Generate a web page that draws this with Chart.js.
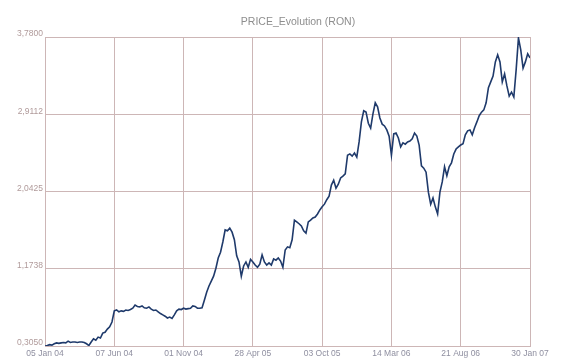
<!DOCTYPE html>
<html>
<head>
<meta charset="utf-8">
<script src="https://cdn.jsdelivr.net/npm/chart.js@4.4.1/dist/chart.umd.min.js"></script>
<style>
    body { margin: 0; background: #fff; }
    #wrap { width: 576px; height: 361px; position: relative; }
</style>
</head>
<body>
<div id="wrap"><canvas id="priceChart"></canvas></div>
<script>
// Title
const chartTitle = 'PRICE_Evolution (RON)';

// Date labels under the vertical grid lines (one every 30 points)
const tickLabels = ['05 Jan 04', '07 Jun 04', '01 Nov 04', '28 Apr 05', '03 Oct 05', '14 Mar 06', '21 Aug 06', '30 Jan 07'];
const labelStep = 30;

// Y axis ticks (min..max split in 4)
const yTicks = [0.3050, 1.1738, 2.0425, 2.9112, 3.7800];

// Price values
const prices = [
    0.305, 0.31, 0.32, 0.315, 0.33, 0.34, 0.335, 0.34, 0.345, 0.34,
    0.36, 0.345, 0.35, 0.35, 0.345, 0.35, 0.35, 0.345, 0.33, 0.31,
    0.35, 0.385, 0.37, 0.405, 0.395, 0.45, 0.46, 0.495, 0.52, 0.575,
    0.70, 0.71, 0.69, 0.70, 0.695, 0.71, 0.705, 0.715, 0.73, 0.765,
    0.75, 0.745, 0.755, 0.735, 0.73, 0.745, 0.72, 0.705, 0.71, 0.69,
    0.67, 0.655, 0.64, 0.62, 0.63, 0.615, 0.655, 0.70, 0.72, 0.715,
    0.73, 0.72, 0.725, 0.73, 0.755, 0.75, 0.73, 0.73, 0.735, 0.82,
    0.91, 0.98, 1.035, 1.09, 1.18, 1.295, 1.36, 1.475, 1.61, 1.60,
    1.63, 1.585, 1.50, 1.32, 1.25, 1.09, 1.205, 1.25, 1.19, 1.28,
    1.25, 1.215, 1.19, 1.225, 1.33, 1.25, 1.215, 1.24, 1.215, 1.285,
    1.27, 1.295, 1.26, 1.19, 1.385, 1.42, 1.41, 1.50, 1.72, 1.70,
    1.68, 1.655, 1.60, 1.575, 1.70, 1.72, 1.745, 1.755, 1.79, 1.835,
    1.87, 1.90, 1.95, 1.99, 2.115, 2.17, 2.08, 2.125, 2.195, 2.215,
    2.24, 2.45, 2.465, 2.44, 2.475, 2.43, 2.60, 2.825, 2.95, 2.935,
    2.81, 2.755, 2.915, 3.04, 2.995, 2.87, 2.80, 2.78, 2.735, 2.665,
    2.45, 2.69, 2.70, 2.645, 2.545, 2.59, 2.575, 2.60, 2.61, 2.635,
    2.70, 2.665, 2.565, 2.33, 2.305, 2.26, 2.035, 1.90, 1.97, 1.87,
    1.79, 2.035, 2.15, 2.32, 2.22, 2.32, 2.365, 2.465, 2.52, 2.545,
    2.565, 2.58, 2.68, 2.725, 2.735, 2.68, 2.76, 2.825, 2.895, 2.935,
    2.96, 3.04, 3.21, 3.275, 3.34, 3.50, 3.58, 3.50, 3.275, 3.365,
    3.23, 3.115, 3.16, 3.105, 3.41, 3.77, 3.635, 3.43, 3.50, 3.59,
    3.545
];

const gridColor = '#cdb6b6';

function formatRon(v) {
    return v.toFixed(4).replace('.', ',');
}

// Title drawn over the plot (slightly right of centre, like the original)
const titlePlugin = {
    id: 'priceTitle',
    afterDraw(chart) {
        const ctx = chart.ctx;
        ctx.save();
        ctx.font = '10.5px "Liberation Sans", Arial, sans-serif';
        ctx.fillStyle = '#8e8e8e';
        ctx.textAlign = 'center';
        ctx.textBaseline = 'middle';
        ctx.fillText(chartTitle, 298, 22);
        ctx.restore();
    }
};

const points = prices.map((v, i) => ({ x: i, y: v }));

const ctx = document.getElementById('priceChart').getContext('2d');
new Chart(ctx, {
    type: 'line',
    data: {
        datasets: [{
            label: 'Price',
            data: points,
            borderColor: '#1f3a6b',
            borderWidth: 1.6,
            pointRadius: 0,
            tension: 0
        }]
    },
    options: {
        responsive: true,
        maintainAspectRatio: false,
        animation: false,
        layout: { padding: { top: 37, right: 46, left: 0, bottom: 0 } },
        plugins: {
            legend: { display: false },
            tooltip: { enabled: false }
        },
        scales: {
            x: {
                type: 'linear',
                min: 0,
                max: prices.length - 1,
                grid: { color: gridColor, drawTicks: false },
                border: { color: gridColor },
                afterBuildTicks: (scale) => {
                    scale.ticks = tickLabels.map((t, i) => ({ value: i * labelStep }));
                },
                afterFit: (scale) => { scale.height = 15; },
                ticks: {
                    autoSkip: false,
                    maxRotation: 0,
                    padding: 3,
                    color: '#8f8fa0',
                    font: { family: '"Liberation Sans", Arial, sans-serif', size: 8.5 },
                    callback: (v) => tickLabels[Math.round(v / labelStep)]
                }
            },
            y: {
                min: yTicks[0],
                max: yTicks[yTicks.length - 1],
                grid: { color: gridColor, drawTicks: false },
                border: { color: gridColor },
                afterBuildTicks: (scale) => {
                    scale.ticks = yTicks.map(v => ({ value: v }));
                },
                afterFit: (scale) => { scale.width = 45; },
                ticks: {
                    padding: 2,
                    labelOffset: -3,
                    color: '#b09a9a',
                    font: { family: '"Liberation Sans", Arial, sans-serif', size: 8.5 },
                    callback: (v) => formatRon(v)
                }
            }
        }
    },
    plugins: [titlePlugin]
});
</script>
</body>
</html>
